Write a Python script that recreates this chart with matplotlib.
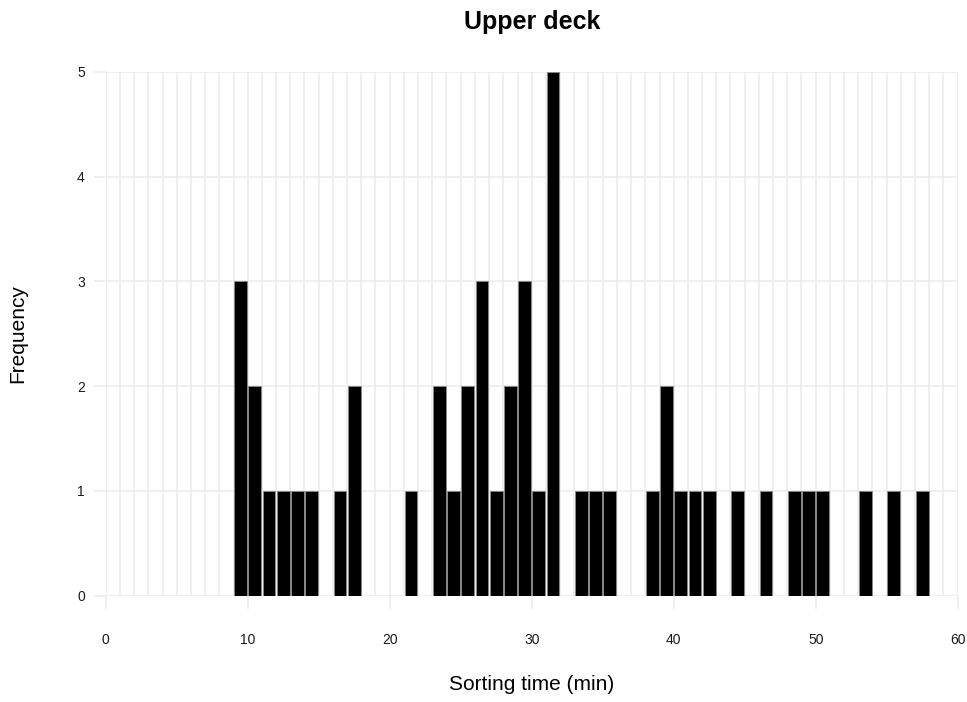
import matplotlib
matplotlib.use("Agg")
import matplotlib.pyplot as plt

plt.rcParams['font.family'] = ['Liberation Sans', 'DejaVu Sans']

# histogram counts, one bin per minute (bin start -> count)
bin_starts = [9, 10, 11, 12, 13, 14, 16, 17, 21, 23, 24, 25, 26, 27, 28, 29, 30, 31,
              33, 34, 35, 38, 39, 40, 41, 42, 44, 46, 48, 49, 50, 53, 55, 57]
counts = [3, 2, 1, 1, 1, 1, 1, 2, 1, 2, 1, 2, 3, 1, 2, 3, 1, 5,
          1, 1, 1, 1, 2, 1, 1, 1, 1, 1, 1, 1, 1, 1, 1, 1]
x_ticks = [0, 10, 20, 30, 40, 50, 60]
y_ticks = [0, 1, 2, 3, 4, 5]

W, H = 967, 702
fig = plt.figure(figsize=(W / 100, H / 100), dpi=100)
left, right, top, bottom = 105.7, 957.7, 71.7, 595.7
ax = fig.add_axes([left / W, 1 - bottom / H, (right - left) / W, (bottom - top) / H])

grid_col = '#ebebeb'
ax.bar([b + 0.5 for b in bin_starts], counts, width=0.9, color='black',
       edgecolor='#8a8a8a', linewidth=0.6, zorder=3)

ax.set_xlim(0, 60)
ax.set_ylim(0, 5)
ax.set_xticks(x_ticks)
ax.set_xticks(range(0, 61), minor=True)
ax.set_yticks(y_ticks)
ax.grid(True, which='both', axis='x', color=grid_col, linewidth=1.1, zorder=0)
ax.grid(True, which='major', axis='y', color=grid_col, linewidth=1.1, zorder=0)
ax.set_axisbelow(True)
for s in ax.spines.values():
    s.set_visible(False)

ax.tick_params(axis='x', which='major', length=9, width=1.1, color=grid_col,
               pad=18, labelsize=10, labelcolor='#1a1a1a')
ax.tick_params(axis='x', which='minor', length=0)
ax.tick_params(axis='y', length=9, width=1.1, color=grid_col, pad=6,
               labelsize=10, labelcolor='#1a1a1a')

cx = (left + right) / 2 / W
fig.text(cx, 1 - 22 / H, 'Upper deck', ha='center', va='center',
         fontsize=18, fontweight='bold')
fig.text(cx, 1 - 684 / H, 'Sorting time (min)', ha='center', va='center', fontsize=15)
fig.text(18 / W, 1 - (top + bottom) / 2 / H, 'Frequency', ha='center', va='center',
         rotation=90, fontsize=15)

fig.savefig('out.png', dpi=100, facecolor='white')
